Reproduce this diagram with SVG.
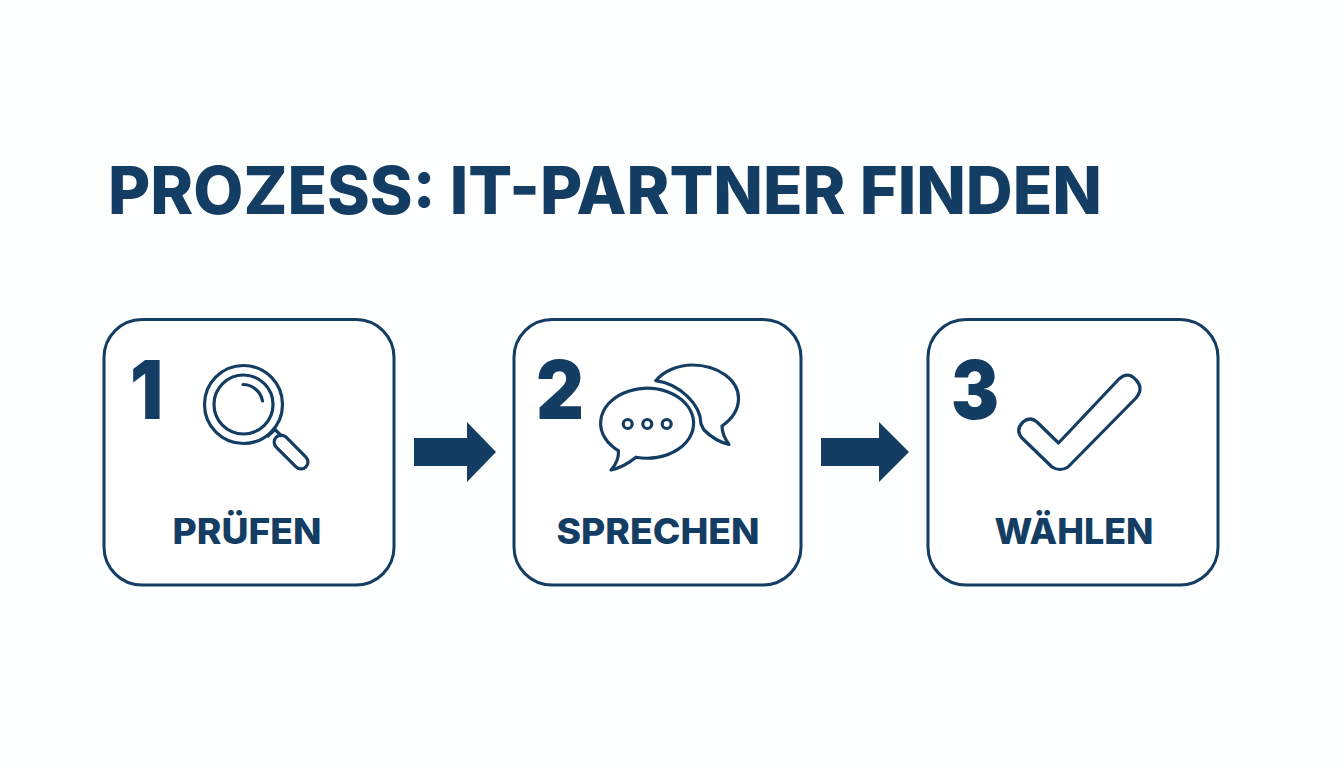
<svg xmlns="http://www.w3.org/2000/svg" width="1344" height="768" viewBox="0 0 1344 768">
<style>
.box{fill:#fff;stroke:#143d63;stroke-width:3}
.ic{fill:none;stroke:#143d63;stroke-width:3.2;stroke-linejoin:round;stroke-linecap:round}
.title{font:800 66px Inter,"Noto Sans",sans-serif;fill:#143d63}
.label{font:800 35.500px Inter,"Noto Sans",sans-serif;fill:#143d63}
.num{font:900 81px Inter,"Noto Sans",sans-serif;fill:#143d63}
.arr{fill:#143d63}
</style>
<rect width="1344" height="768" fill="#fdfefe"/>
<text id="title" class="title" x="108" y="214" textLength="994" lengthAdjust="spacingAndGlyphs">PROZESS: IT-PARTNER FINDEN</text>
<g id="connectors">
<path class="arr" d="M414 438H467V422L496 452L467 482V466H414Z"/>
<path class="arr" d="M821 438H879V422L909 452L879 482V466H821Z"/>
</g>
<g id="node1">
<rect class="box" x="104" y="319.500" width="290" height="265.500" rx="38"/>
<text class="num" x="130" y="419" textLength="33" lengthAdjust="spacingAndGlyphs">1</text>
<circle class="ic" cx="243.500" cy="404.500" r="39"/>
<circle class="ic" cx="243.500" cy="404.500" r="29.500"/>
<path class="ic" d="M243 384.500A20 20 0 0 1 262.500 401"/>
<path class="ic" d="M268 436L275 429.500L281 435.500"/>
<rect class="ic" x="270.500" y="444" width="42" height="14" rx="7" transform="rotate(45 290 451)"/>
<text class="label" x="172.500" y="544" textLength="149" lengthAdjust="spacingAndGlyphs">PRÜFEN</text>
</g>
<g id="node2">
<rect class="box" x="514" y="319.500" width="287" height="265.500" rx="38"/>
<text class="num" x="536" y="419" textLength="48" lengthAdjust="spacingAndGlyphs">2</text>
<path class="ic" d="M636 457.200A46.500 35 0 1 0 618.500 450.800Q619 461 611 470Q624 467 636 457.200Z"/>
<path class="ic" d="M655.700 380.700C665 370 680 365 692 365C718 365 738.500 380 738.500 398.500C738.500 410 732 419 722 426C722 433 725 439 729 444.500C719 442 711 437 704 430L701 424C701 405 680 384 655.700 380.700Z"/>
<circle class="ic" cx="627.700" cy="424" r="4.500"/>
<circle class="ic" cx="647.300" cy="424" r="4.500"/>
<circle class="ic" cx="666.700" cy="424" r="4.500"/>
<text class="label" x="556.500" y="544" textLength="203" lengthAdjust="spacingAndGlyphs">SPRECHEN</text>
</g>
<g id="node3">
<rect class="box" x="928" y="319.500" width="290" height="265.500" rx="38"/>
<text class="num" x="951" y="419" textLength="48" lengthAdjust="spacingAndGlyphs">3</text>
<path class="ic" d="M1058.500 443L1037 422Q1030 416 1023 422Q1015 430 1022 438L1052 467Q1060 472 1068 467L1136 398Q1144 388 1136 380Q1128 371 1119 379Z"/>
<text class="label" x="994.500" y="544" textLength="159" lengthAdjust="spacingAndGlyphs">WÄHLEN</text>
</g>
</svg>
